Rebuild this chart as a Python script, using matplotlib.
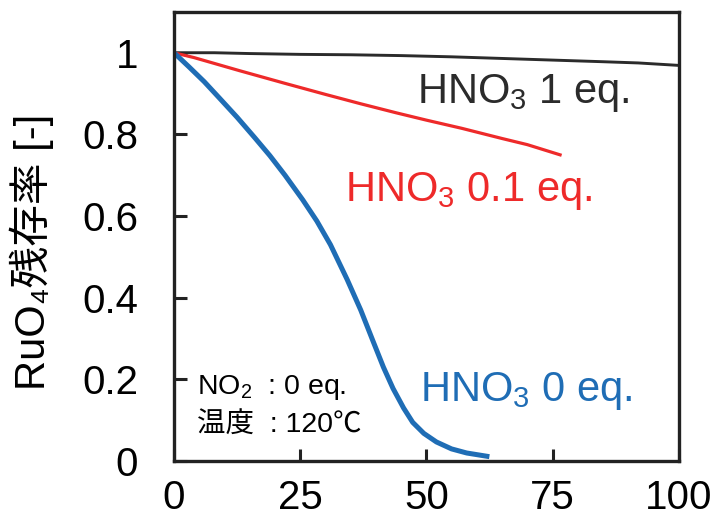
import matplotlib
matplotlib.use("Agg")
import matplotlib.pyplot as plt

plt.rcParams['font.family'] = ['Liberation Sans', 'Noto Sans CJK JP', 'DejaVu Sans']
plt.rcParams['mathtext.fontset'] = 'custom'
plt.rcParams['mathtext.rm'] = 'Liberation Sans'
plt.rcParams['mathtext.it'] = 'Liberation Sans'

# HNO3 0 eq. (blue)
t0 = [0, 3, 6, 9, 12.5, 16, 19, 22, 25.5, 28.3, 31, 34.3, 37, 39.4, 41.5, 43.4,
      45.5, 47.3, 49.5, 52, 55, 58, 62]
r0 = [1.0, 0.965, 0.929, 0.889, 0.842, 0.792, 0.748, 0.700, 0.640, 0.588, 0.53,
      0.445, 0.37, 0.295, 0.23, 0.178, 0.13, 0.095, 0.068, 0.047, 0.03, 0.02, 0.012]

# HNO3 0.1 eq. (red)
t01 = [0, 4, 13, 22, 30, 37, 44, 50, 57, 65, 70, 76.5]
r01 = [1.0, 0.988, 0.956, 0.925, 0.898, 0.875, 0.853, 0.835, 0.815, 0.79, 0.775, 0.75]

# HNO3 1 eq. (black)
t1 = [0, 8, 15, 25, 35, 45, 55, 65, 75, 85, 92, 100]
r1 = [1.0, 1.0, 0.998, 0.996, 0.995, 0.993, 0.99, 0.986, 0.982, 0.978, 0.975, 0.969]

xticks = [0, 25, 50, 75, 100]
yticks = [0, 0.2, 0.4, 0.6, 0.8, 1]
yticklabels = ['0', '0.2', '0.4', '0.6', '0.8', '1']

fig = plt.figure(figsize=(7.22, 5.17), dpi=100)
ax = fig.add_axes([0.241, 0.108, 0.699, 0.869])

ax.plot(t1, r1, color='#2b2b2b', lw=2.1)
ax.plot(t01, r01, color='#ee2a2a', lw=2.3)
ax.plot(t0, r0, color='#1f6db5', lw=3.6)

ax.set_xlim(0, 100)
ax.set_ylim(0, 1.1)
ax.set_xticks(xticks)
ax.set_yticks(yticks)
ax.set_yticklabels(yticklabels)
for s in ax.spines.values():
    s.set_linewidth(2.4)
    s.set_color('#222222')
ax.tick_params(direction='in', length=9, width=2.2, labelsize=29, color='#222222')
ax.tick_params(axis='y', pad=26)
ax.tick_params(axis='x', pad=13)

ax.set_ylabel('RuO\u2084残存率 [-]', fontsize=30)
ax.yaxis.set_label_coords(-0.238, 0.465)

ax.text(48.2, 0.878, 'HNO$_3$ 1 eq.', fontsize=30, color='#2b2b2b')
ax.text(33.9, 0.637, 'HNO$_3$ 0.1 eq.', fontsize=30, color='#ee2a2a')
ax.text(48.7, 0.147, 'HNO$_3$ 0 eq.', fontsize=30, color='#1f6db5')
ax.text(4.5, 0.164, 'NO$_2$  : 0 eq.', fontsize=20.5, color='black')
ax.text(4.5, 0.069, '温度  : 120℃', fontsize=20.5, color='black')

fig.savefig('out.png', dpi=100)
